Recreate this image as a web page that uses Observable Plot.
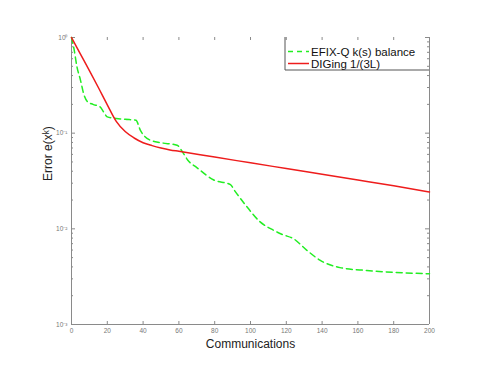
<!DOCTYPE html>
<html>
<head>
<meta charset="utf-8">
<script src="https://cdn.jsdelivr.net/npm/d3@7"></script>
<script src="https://cdn.jsdelivr.net/npm/@observablehq/plot@0.6"></script>
<style>
body { margin: 0; background: #fff; }
</style>
</head>
<body>
<div id="chart"></div>
<script>
// Data
const efixX = [0, 1.5, 3, 5, 7, 9, 12, 16, 18, 20, 25, 30, 36, 38.5, 44, 50, 59, 62, 65, 70, 79.5, 88.8, 91, 98, 105, 113, 118, 124, 131.5, 139, 150, 165, 180, 200];
const efixY = [1.0, 0.741, 0.5, 0.359, 0.251, 0.213, 0.2, 0.188, 0.166, 0.148, 0.1426, 0.1396, 0.1368, 0.107, 0.0845, 0.0794, 0.0748, 0.0637, 0.0521, 0.0437, 0.0324, 0.029, 0.0253, 0.017, 0.012, 0.00964, 0.0087, 0.00789, 0.00596, 0.00468, 0.00393, 0.00367, 0.00351, 0.00339];
const digX = [0, 5, 10, 15, 20, 25, 30, 35, 40, 45, 50, 55, 60, 80, 100, 120, 140, 160, 180, 200];
const digY = [1.0, 0.67, 0.45, 0.30, 0.198, 0.133, 0.104, 0.089, 0.0794, 0.0741, 0.070, 0.0668, 0.0646, 0.0562, 0.049, 0.0427, 0.0372, 0.0324, 0.0282, 0.0243];
const seriesNames = ["EFIX-Q k(s) balance", "DIGing 1/(3L)"];
const seriesColors = ["#22ee22", "#ee1c1c"];
const xTicks = [0, 20, 40, 60, 80, 100, 120, 140, 160, 180, 200];
const yMajor = [1e-3, 1e-2, 1e-1, 1];
const yMajorLabels = ["10\u207B\u00B3", "10\u207B\u00B2", "10\u207B\u00B9", "10\u2070"];
const xLabel = "Communications";
const yLabel = "Error e(x\u1D4F)";

const efix = efixX.map((x, i) => ({x, y: efixY[i]}));
const dig = digX.map((x, i) => ({x, y: digY[i]}));
const yMinor = [];
for (const d of [1e-3, 1e-2, 1e-1]) for (let m = 2; m <= 9; m++) yMinor.push(+(d * m).toPrecision(3));

const W = 484, H = 374, mL = 71, mR = 55, mT = 37, mB = 50;
const fw = W - mL - mR, fh = H - mT - mB;
const axisColor = "#8a8a8a";

const chart = Plot.plot({
  width: W, height: H,
  marginLeft: mL, marginRight: mR, marginTop: mT, marginBottom: mB,
  style: {fontFamily: "'Liberation Sans', Arial, sans-serif", background: "#fff"},
  x: {domain: [0, 200]},
  y: {type: "log", domain: [1e-3, 1]},
  marks: [
    Plot.axisX({ticks: xTicks, tickSize: 0, tickPadding: 4, fontSize: 6.5, color: "#777", label: null}),
    Plot.axisY({ticks: yMajor, tickSize: 0, tickPadding: 4, fontSize: 6.5, color: "#777", label: null,
      tickFormat: d => yMajorLabels[yMajor.indexOf(d)]}),
    // tick marks pointing inward
    Plot.tickX(xTicks, {x: d => d, insetTop: fh - 3, stroke: axisColor}),
    Plot.tickX(xTicks, {x: d => d, insetBottom: fh - 3, stroke: axisColor}),
    Plot.tickY(yMajor, {y: d => d, insetRight: fw - 4, stroke: axisColor}),
    Plot.tickY(yMinor, {y: d => d, insetRight: fw - 2, stroke: axisColor}),
    Plot.tickY(yMajor, {y: d => d, insetLeft: fw - 4, stroke: axisColor}),
    Plot.tickY(yMinor, {y: d => d, insetLeft: fw - 2, stroke: axisColor}),
    Plot.ruleX([0, 200], {stroke: axisColor}),
    Plot.ruleY([1e-3], {stroke: axisColor}),
    Plot.line(efix, {x: "x", y: "y", stroke: seriesColors[0], strokeWidth: 1.5, strokeDasharray: "6,4", curve: "monotone-x"}),
    Plot.line(dig, {x: "x", y: "y", stroke: seriesColors[1], strokeWidth: 1.5, curve: "monotone-x"}),
    Plot.text([xLabel], {frameAnchor: "bottom", dy: 23, fontSize: 12, fill: "#222"}),
    Plot.text([yLabel], {frameAnchor: "left", dx: -23, rotate: -90, fontSize: 12, fill: "#222"})
  ]
});

// Legend (inside plot, top-right)
const svg = d3.select(chart);
const lg = svg.append("g").attr("font-family", "'Liberation Sans', Arial, sans-serif")
  .attr("font-size", 11.5).attr("text-anchor", "start");
const lx = 285, ly0 = mT, ly1 = 70, rx = W - mR;
lg.append("line").attr("x1", lx).attr("x2", lx).attr("y1", ly0).attr("y2", ly1).attr("stroke", "#555");
lg.append("line").attr("x1", lx).attr("x2", rx).attr("y1", ly1).attr("y2", ly1).attr("stroke", "#555");
seriesNames.forEach((name, i) => {
  const yy = 51.5 + i * 12;
  const ln = lg.append("line").attr("x1", 288).attr("x2", 309).attr("y1", yy).attr("y2", yy)
    .attr("stroke", seriesColors[i]).attr("stroke-width", 1.5);
  if (i === 0) ln.attr("stroke-dasharray", "5,4");
  lg.append("text").attr("x", 311).attr("y", yy).attr("dy", "0.35em").attr("fill", "#111")
    .attr("text-anchor", "start").text(name);
});

document.getElementById("chart").appendChild(chart);
</script>
</body>
</html>
